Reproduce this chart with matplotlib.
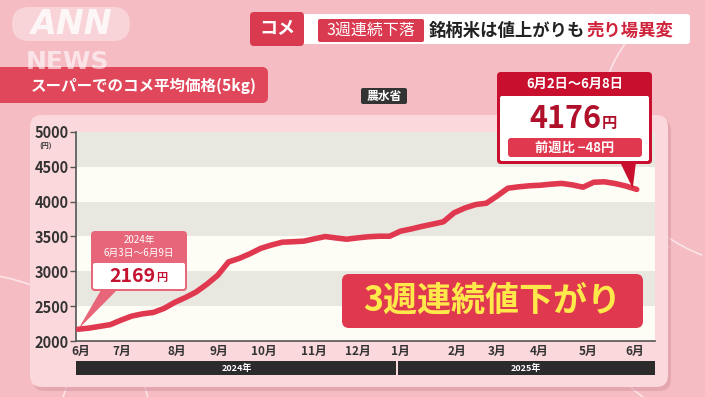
import numpy as np
import matplotlib.pyplot as plt
from matplotlib.patches import FancyBboxPatch, Rectangle, Polygon, Arc

plt.rcParams['font.family'] = ['Noto Sans CJK JP', 'DejaVu Sans']

# weekly average price (yen / 5kg), 2024-06-03 week .. 2025-06-02 week
prices = [2169, 2185, 2210, 2235, 2300, 2358, 2390, 2410, 2468, 2555,
          2625, 2705, 2817, 2945, 3135, 3186, 3253, 3330, 3378, 3418,
          3425, 3433, 3467, 3499, 3479, 3461, 3480, 3496, 3504, 3504,
          3576, 3608, 3645, 3677, 3711, 3840, 3909, 3958, 3978, 4081,
          4193, 4213, 4228, 4236, 4251, 4262, 4241, 4208, 4279, 4285,
          4260, 4224, 4176]
weeks = np.arange(len(prices))

month_labels = ['6月', '7月', '8月', '9月', '10月', '11月', '12月',
                '1月', '2月', '3月', '4月', '5月', '6月']
month_pos = [0.2, 4.1, 9.2, 13.1, 17.3, 21.9, 26.0,
             30.0, 35.3, 39.0, 42.9, 47.5, 51.8]
yticks = [2000, 2500, 3000, 3500, 4000, 4500, 5000]
years = ['2024年', '2025年']
year_split = 29.7

first_label = ['2024年', '6月3日～6月9日']
last_label = '6月2日～6月8日'
change = -48

W, H = 705, 397
fig = plt.figure(figsize=(W / 100, H / 100), dpi=100)
fig.patch.set_facecolor('#f5bcc4')

# background / decoration layer in pixel coords
bg = fig.add_axes([0, 0, 1, 1], zorder=0)
bg.set_xlim(0, W)
bg.set_ylim(H, 0)
bg.axis('off')

# faint white curves
for cx, cy, w, h, t1, t2 in [(-60, 420, 420, 300, 270, 360), (300, 480, 500, 520, 180, 270),
                             (780, 120, 360, 300, 120, 220), (520, -80, 320, 260, 200, 320),
                             (900, 330, 600, 260, 150, 200)]:
    bg.add_patch(Arc((cx, cy), w, h, theta1=t1, theta2=t2, color='white', lw=1.2, alpha=0.6))

# ANN NEWS logo
bg.add_patch(FancyBboxPatch((12, 7), 118, 34, boxstyle='round,pad=0,rounding_size=17',
                            fc='white', ec='none', alpha=0.35))
bg.text(71, 25, 'ANN', color='white', fontsize=24, fontweight='bold', style='italic',
        family='DejaVu Sans', ha='center', va='center', alpha=0.8)
bg.text(67, 62, 'NEWS', color='white', fontsize=18, fontweight='bold',
        family='DejaVu Sans', ha='center', va='center', alpha=0.6)

# header
bg.add_patch(FancyBboxPatch((300, 14), 390, 30, boxstyle='round,pad=0,rounding_size=3',
                            fc='white', ec='none'))
bg.add_patch(FancyBboxPatch((250, 12), 54, 34, boxstyle='round,pad=0,rounding_size=4',
                            fc='#d93a4f', ec='none'))
bg.text(277, 29, 'コメ', color='white', fontsize=13, fontweight='bold', ha='center', va='center')
bg.add_patch(FancyBboxPatch((318, 19), 106, 23, boxstyle='round,pad=0,rounding_size=2',
                            fc='#d93a4f', ec='none'))
bg.text(371, 30.5, '3週連続下落', color='white', fontsize=11.5, ha='center', va='center')
bg.text(429, 30.5, '銘柄米は値上がりも', color='#222222', fontsize=12.5, fontweight='bold',
        ha='left', va='center')
bg.text(586, 30.5, '売り場異変', color='#d0223a', fontsize=12.5, fontweight='bold',
        ha='left', va='center')

# chart card with shadow
bg.add_patch(FancyBboxPatch((33, 119), 638, 272, boxstyle='round,pad=0,rounding_size=12',
                            fc='#d99aa3', ec='none', alpha=0.6))
bg.add_patch(FancyBboxPatch((30, 115), 638, 272, boxstyle='round,pad=0,rounding_size=12',
                            fc='#fbd8dc', ec='none'))

# title banner
bg.add_patch(FancyBboxPatch((-10, 67), 278, 36, boxstyle='round,pad=0,rounding_size=6',
                            fc='#e0475a', ec='none'))
bg.text(31, 86, 'スーパーでのコメ平均価格(5kg)', color='white', fontsize=11.2,
        fontweight='bold', ha='left', va='center')
bg.add_patch(FancyBboxPatch((361, 88), 46, 16, boxstyle='round,pad=0,rounding_size=2',
                            fc='#333333', ec='none'))
bg.text(384, 96, '農水省', color='white', fontsize=8.5, fontweight='bold', ha='center', va='center')

# chart
x0_px, x1_px = 76, 655
ax = fig.add_axes([x0_px / W, 1 - 341 / H, (x1_px - x0_px) / W, (341 - 132) / H], zorder=2)
ax.set_xlim(-0.2, 53.7)
ax.set_ylim(2000, 5000)
ax.set_facecolor('#fdfdf6')
for lo in [2500, 3500, 4500]:
    ax.axhspan(lo, lo + 500, color='#e8e8e1', lw=0, zorder=0)
ax.plot(weeks, prices, color='#e0384f', lw=4, solid_capstyle='round', solid_joinstyle='round',
        zorder=3)
for s in ['top', 'right']:
    ax.spines[s].set_visible(False)
for s in ['left', 'bottom']:
    ax.spines[s].set_color('#555555')
    ax.spines[s].set_linewidth(1.2)
ax.set_yticks(yticks)
ax.set_yticklabels([str(v) for v in yticks], fontsize=10.5, fontweight='bold', color='#333333')
ax.tick_params(axis='y', length=4, width=1, color='#555555', pad=1)
ax.set_xticks(month_pos)
ax.set_xticklabels(month_labels, fontsize=8.5, fontweight='bold', color='#333333')
ax.tick_params(axis='x', length=0, pad=3)
ax.text(-0.052, 0.93, '(円)', transform=ax.transAxes, fontsize=5, fontweight='bold',
        color='#333333', ha='center', va='center')


def px(xd, yd):
    dx, dy = ax.transData.transform((xd, yd))
    return dx, H - dy


# year bars
ybar0, ybar1 = 361, 375
xs_px = px(year_split, 2000)[0]
bg.add_patch(Rectangle((x0_px, ybar0), xs_px - x0_px - 1, ybar1 - ybar0, fc='#2b2b2b', ec='none'))
bg.add_patch(Rectangle((xs_px + 1, ybar0), x1_px - xs_px - 1, ybar1 - ybar0, fc='#2b2b2b', ec='none'))
bg.text((x0_px + xs_px) / 2, 368, years[0], color='white', fontsize=6.5, fontweight='bold',
        ha='center', va='center')
bg.text((xs_px + x1_px) / 2, 368, years[1], color='white', fontsize=6.5, fontweight='bold',
        ha='center', va='center')

# foreground annotations
fg = fig.add_axes([0, 0, 1, 1], zorder=4)
fg.set_xlim(0, W)
fg.set_ylim(H, 0)
fg.axis('off')
fg.patch.set_alpha(0)

# first-week callout
sx, sy = px(weeks[0], prices[0])
fg.add_patch(Polygon([(sx, sy), (104, 285), (122, 285)], closed=True, fc='#e8667a', ec='none'))
fg.add_patch(FancyBboxPatch((91, 231), 96, 60, boxstyle='round,pad=0,rounding_size=4',
                            fc='#e8667a', ec='none'))
fg.add_patch(FancyBboxPatch((93, 263), 92, 26, boxstyle='round,pad=0,rounding_size=2',
                            fc='white', ec='none'))
fg.text(139, 240, first_label[0], color='white', fontsize=7, ha='center', va='center')
fg.text(139, 253, first_label[1], color='white', fontsize=7, ha='center', va='center')
fg.text(155, 276, f'{prices[0]}', color='#c41230', fontsize=14, fontweight='bold',
        ha='right', va='center')
fg.text(156, 278, '円', color='#c41230', fontsize=8, fontweight='bold', ha='left', va='center')

# last-week callout
ex, ey = px(weeks[-1], prices[-1])
fg.add_patch(Polygon([(ex - 4, ey - 1), (620, 162), (636, 162)], closed=True, fc='#c8102e', ec='none'))
fg.add_patch(FancyBboxPatch((497, 72), 155, 92, boxstyle='round,pad=0,rounding_size=4',
                            fc='#c8102e', ec='none'))
fg.add_patch(FancyBboxPatch((500, 96), 149, 65, boxstyle='round,pad=0,rounding_size=2',
                            fc='white', ec='none'))
fg.text(574.5, 84, last_label, color='white', fontsize=9.5, fontweight='bold',
        ha='center', va='center')
fg.text(601, 119, f'{prices[-1]}', color='#b0102a', fontsize=22, fontweight='bold',
        ha='right', va='center')
fg.text(602, 123, '円', color='#b0102a', fontsize=11, fontweight='bold', ha='left', va='center')
fg.add_patch(FancyBboxPatch((508, 138), 134, 19, boxstyle='round,pad=0,rounding_size=3',
                            fc='#e0384f', ec='none'))
fg.text(575, 147.5, f'前週比 \u2212{abs(change)}円', color='white', fontsize=9.5,
        fontweight='bold', ha='center', va='center')

# big label
fg.add_patch(FancyBboxPatch((342, 274), 301, 54, boxstyle='round,pad=0,rounding_size=7',
                            fc='#e0384f', ec='none'))
fg.text(492, 300, '3週連続値下がり', color='#ffe94a', fontsize=24.5, fontweight='bold',
        ha='center', va='center')

fig.savefig('out.png', dpi=100, facecolor=fig.get_facecolor())
